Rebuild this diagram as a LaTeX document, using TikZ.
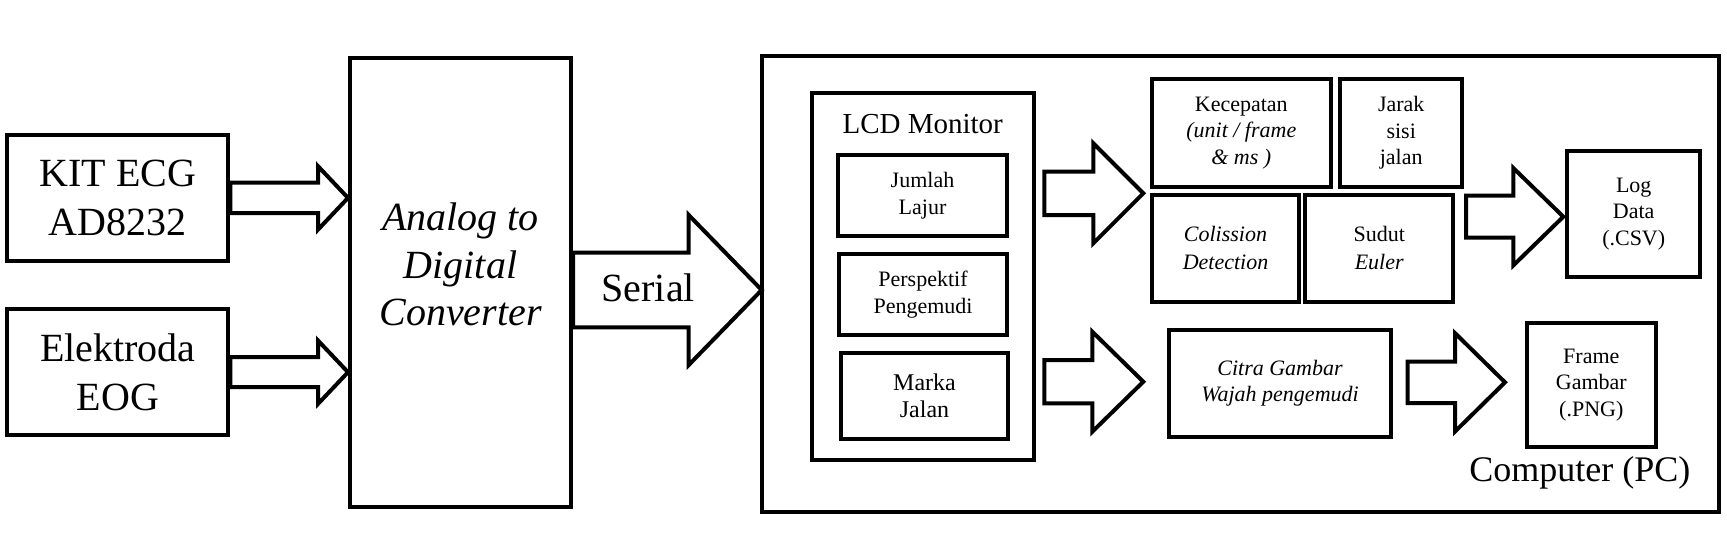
\documentclass[tikz,border=0pt]{standalone}
\usepackage{fontspec}
\setmainfont{Liberation Serif}
\usetikzlibrary{calc}
\newcommand\blockarr[5]{% #1 start, #2 tip, #3 shaft half, #4 head half, #5 head length
  \draw[blk] let \p1=(#1), \p2=(#2) in
    ({\x1},{\y2+#3}) -- ({\x2-#5},{\y2+#3}) -- ({\x2-#5},{\y2+#4}) -- ({\x2},{\y2})
    -- ({\x2-#5},{\y2-#4}) -- ({\x2-#5},{\y2-#3}) -- ({\x1},{\y2-#3}) -- cycle;}
\begin{document}
\begin{tikzpicture}[x=0.5pt,y=-0.5pt,
  box/.style={draw, line width=2pt, fill=white, inner sep=0pt, align=center,
    font=\fontsize{11}{13.3}\selectfont},
  bigtext/.style={font=\fontsize{20}{24.5}\selectfont},
  blk/.style={draw, line width=2pt, fill=white, line join=miter},
]
\fill[white] (0,0) rectangle (1727,532);
\useasboundingbox (0,0) rectangle (1727,532);

% left part
\node[box, bigtext, minimum width=110.5pt, minimum height=62.85pt] (kit) at (117.8,197.9) {KIT ECG\\AD8232};
\node[box, bigtext, minimum width=110.5pt, minimum height=62.85pt] (elek) at (117.8,372.2) {Elektroda\\EOG};
\node[box, minimum width=110.5pt, minimum height=224.35pt] (adc) at (460.5,282.3) {};
\node[align=center, inner sep=0pt, font=\fontsize{20}{23.75}\selectfont\itshape] (adctext) at (460.5,264.5) {Analog to\\Digital\\Converter};

% computer
\node[box, minimum width=478.8pt, minimum height=227.85pt] (comp) at (1240.5,283.8) {};
\node[font=\fontsize{18}{20}\selectfont, anchor=base east, inner sep=0pt] (complabel) at (1690.7,481.7) {Computer (PC)};

% LCD monitor group
\node[box, minimum width=111.3pt, minimum height=183.65pt] (lcd) at (923,276.3) {};
\node[font=\fontsize{14.5}{16}\selectfont, anchor=base, inner sep=0pt] (lcdlabel) at (922.7,133.3) {LCD Monitor};
\node[box, minimum width=84.2pt, minimum height=40.35pt] (jumlah) at (922.5,195.7) {Jumlah\\Lajur};
\node[box, minimum width=83.7pt, minimum height=40.35pt] (persp) at (923,294.7) {Perspektif\\Pengemudi};
\node[box, font=\fontsize{12}{13.8}\selectfont, minimum width=83.8pt, minimum height=43pt] (marka) at (924.5,395.7) {Marka\\Jalan};

% output boxes
\node[box, minimum width=89.65pt, minimum height=53.85pt] (kec) at (1241.3,132.8) {Kecepatan\\\textit{(unit / frame}\\\textit{\& ms )}};
\node[box, minimum width=61.15pt, minimum height=53.85pt] (jarak) at (1401.2,132.8) {Jarak\\sisi\\jalan};
\node[box, font=\fontsize{11}{14}\selectfont\itshape, minimum width=73.8pt, minimum height=53.35pt] (coll) at (1225.5,248.3) {Colission\\Detection};
\node[box, font=\fontsize{11}{14}\selectfont, minimum width=74.15pt, minimum height=53.35pt] (sudut) at (1379.2,248.3) {Sudut\\\textit{Euler}};
\node[box, minimum width=66.35pt, minimum height=63.3pt] (log) at (1633.7,214) {Log\\Data\\(.CSV)};
\node[box, font=\fontsize{11}{13.3}\selectfont\itshape, minimum width=111pt, minimum height=53.35pt] (citra) at (1280,383.3) {Citra Gambar\\Wajah pengemudi};
\node[box, minimum width=64.65pt, minimum height=62.3pt] (frame) at (1591.3,385) {Frame\\Gambar\\(.PNG)};

% arrow end points
\coordinate (sertip) at (761.7,290);
\coordinate (a4s) at (1044.3,193.3);
\coordinate (a4t) at (1143.3,193.3);
\coordinate (a5s) at (1044.3,381.7);
\coordinate (a5t) at (1143.3,381.7);
\coordinate (a6s) at (1466,216.7);
\coordinate (a6t) at (1563.3,216.7);
\coordinate (a7s) at (1407.7,382.3);
\coordinate (a7t) at (1505,382.3);

% block arrows
\blockarr{kit.east}{kit.east -| adc.west}{7.65pt}{15.85pt}{15pt}
\blockarr{elek.east}{elek.east -| adc.west}{7.5pt}{15.85pt}{15pt}
\blockarr{adc.east}{sertip}{18.65pt}{37.5pt}{36.5pt}
\blockarr{a4s}{a4t}{10.85pt}{25pt}{25pt}
\blockarr{a5s}{a5t}{10.85pt}{25pt}{25.5pt}
\blockarr{a6s}{a6t}{10.5pt}{24.35pt}{25pt}
\blockarr{a7s}{a7t}{10.4pt}{24.6pt}{25pt}

\node[bigtext, anchor=base, inner sep=0pt] (serial) at (648.3,301.7) {Serial};
\end{tikzpicture}
\end{document}
